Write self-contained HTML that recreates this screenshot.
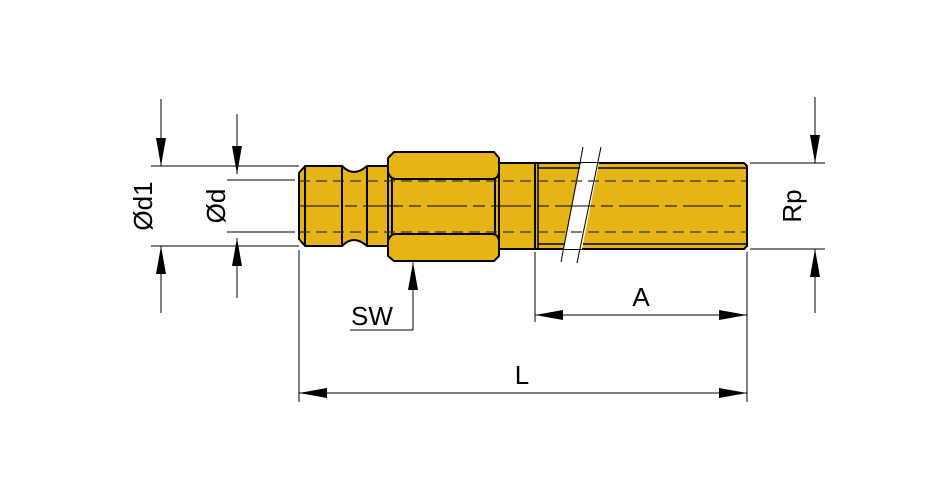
<!DOCTYPE html>
<html><head><style>body{margin:0;background:#fff}svg{display:block}</style></head><body>
<svg width="950" height="500" xmlns="http://www.w3.org/2000/svg" font-family="Liberation Sans, sans-serif">
<defs>
<marker id="a" markerWidth="28" markerHeight="10" refX="28" refY="5" orient="auto" markerUnits="userSpaceOnUse"><path d="M0,0 L28,5 L0,10z" fill="#000"/></marker>
</defs>
<g stroke="#000" stroke-width="2" fill="#e6b414" stroke-linejoin="round">
<path d="M305,166 L342,166 Q348,172 354,172 Q360,172 367,166 L388,166 L388,246 L367,246 Q360,240 354,240 Q348,240 342,246 L305,246 L299,239 L299,173 Z"/>
<line x1="342" y1="166" x2="342" y2="246"/>
<line x1="367" y1="166" x2="367" y2="246"/>
<line x1="305" y1="166" x2="305" y2="246"/>
<rect x="499" y="163" width="36" height="86"/>
<path d="M535,163 L744,163 L747,166 L747,246 L744,249 L535,249 Z"/>
<line x1="538" y1="168" x2="747" y2="168" stroke-width="1.5"/>
<line x1="538" y1="244" x2="747" y2="244" stroke-width="1.5"/>
<line x1="538" y1="163" x2="538" y2="249" stroke-width="1.5"/>
<path d="M394,152 L494,152 L499,158 L499,256 L494,261 L394,261 L388,256 L388,158 Z"/>
<path d="M388,172 Q390,179 396,179 L492,179 Q498,179 499,172" fill="none"/>
<path d="M388,241 Q390,234 396,234 L492,234 Q498,234 499,241" fill="none"/>
<line x1="392" y1="179" x2="392" y2="234"/>
<line x1="495" y1="179" x2="495" y2="234"/>
</g>
<path d="M581,163 L599,163 L582,249 L564,249 Z" fill="#fff"/>
<g stroke="#000" stroke-width="1">
<line x1="583" y1="147" x2="561" y2="262"/>
<line x1="601" y1="147" x2="577" y2="263"/>
<line x1="299" y1="181" x2="747" y2="181" stroke-dasharray="11,6" stroke="#333" stroke-width="1.3"/>
<line x1="299" y1="232" x2="747" y2="232" stroke-dasharray="11,6" stroke="#333" stroke-width="1.3"/>
<line x1="299" y1="206" x2="747" y2="206" stroke-dasharray="40,6,12,6"/>
<line x1="151" y1="166" x2="299" y2="166"/>
<line x1="151" y1="246" x2="299" y2="246"/>
<line x1="161" y1="99" x2="161" y2="166" marker-end="url(#a)"/>
<line x1="161" y1="313" x2="161" y2="246" marker-end="url(#a)"/>
<line x1="227" y1="180" x2="295" y2="180"/>
<line x1="227" y1="232" x2="295" y2="232"/>
<line x1="237" y1="114" x2="237" y2="174" marker-end="url(#a)"/>
<line x1="237" y1="298" x2="237" y2="238" marker-end="url(#a)"/>
<line x1="750" y1="163" x2="825" y2="163"/>
<line x1="750" y1="249" x2="825" y2="249"/>
<line x1="815" y1="97" x2="815" y2="163" marker-end="url(#a)"/>
<line x1="815" y1="313" x2="815" y2="249" marker-end="url(#a)"/>
<polyline points="350,330 413,330 413,262" fill="none" marker-end="url(#a)"/>
<line x1="535" y1="252" x2="535" y2="322"/>
<line x1="747" y1="252" x2="747" y2="402"/>
<line x1="299" y1="250" x2="299" y2="402"/>
<line x1="641" y1="315" x2="535" y2="315" marker-end="url(#a)"/>
<line x1="640" y1="315" x2="747" y2="315" marker-end="url(#a)"/>
<line x1="524" y1="393" x2="299" y2="393" marker-end="url(#a)"/>
<line x1="523" y1="393" x2="747" y2="393" marker-end="url(#a)"/>
</g>
<g font-size="26" fill="#000">
<text x="0" y="0" text-anchor="middle" transform="translate(152,206) rotate(-90)">Ød1</text>
<text x="0" y="0" text-anchor="middle" transform="translate(225,206) rotate(-90)">Ød</text>
<text x="0" y="0" text-anchor="middle" transform="translate(801,206) rotate(-90)">Rp</text>
<text x="372" y="325" text-anchor="middle">SW</text>
<text x="641" y="306" text-anchor="middle">A</text>
<text x="522" y="384" text-anchor="middle">L</text>
</g>
</svg>
</body></html>
